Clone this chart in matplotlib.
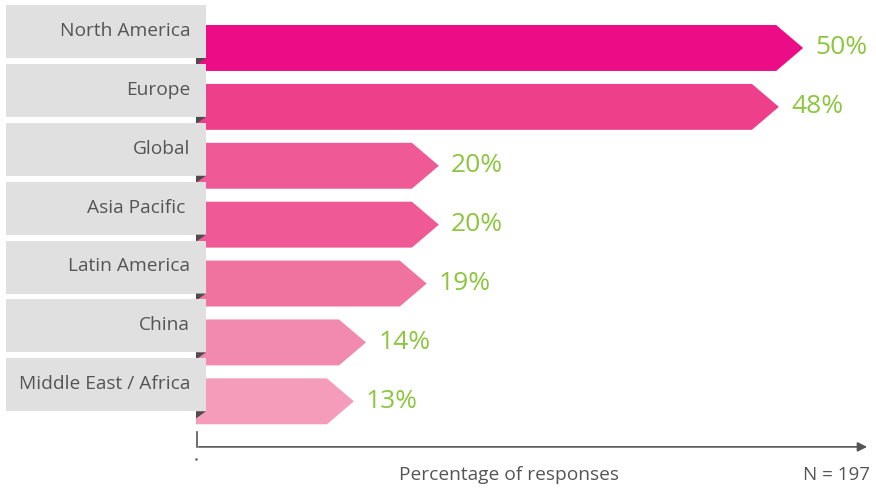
import matplotlib.pyplot as plt
from matplotlib.patches import Polygon, Rectangle

plt.rcParams['font.family'] = ['Open Sans', 'DejaVu Sans']

regions = ['North America', 'Europe', 'Global', 'Asia Pacific ', 'Latin America',
           'China', 'Middle East / Africa']
values = [50, 48, 20, 20, 19, 14, 13]
colors = ['#EC0C85', '#EE3F8A', '#EF5A96', '#EF5A96', '#F0729F', '#F28AB0', '#F49CBA']

fig = plt.figure(figsize=(8.76, 4.92), dpi=100)
ax = fig.add_axes([0, 0, 1, 1])
ax.set_xlim(-16.14, 56.0)
ax.set_ylim(7.54, -0.815)
ax.axis('off')

head = 2.22     # arrow head length in % units
half = 0.39     # half bar height in rows

for i, (name, val, col) in enumerate(zip(regions, values, colors)):
    # arrow-shaped bar
    body = val - head
    pts = [(0, i - half), (body, i - half), (val, i), (body, i + half), (0, i + half)]
    ax.add_patch(Polygon(pts, closed=True, facecolor=col, edgecolor='none'))

    # grey label box
    ax.add_patch(Rectangle((-15.65, i - 0.73), 16.47, 0.9, facecolor='#E0E0E0',
                           edgecolor='none'))
    # small folded corner
    ax.add_patch(Polygon([(0, i + 0.17), (0.82, i + 0.17), (0, i + 0.29)],
                         closed=True, facecolor='#4D4D4D', edgecolor='none'))
    ax.text(-0.49, i - 0.29, name, ha='right', va='center', fontsize=13.8, color='#555555')

    ax.text(val + 1.0, i, f'{val}%', ha='left', va='center', fontsize=19, color='#8CC63F')

# axis with arrow
ax.plot([0.08, 0.08], [6.52, 6.774], color='#555555', lw=1.2)
ax.annotate('', xy=(55.5, 6.774), xytext=(0.0, 6.774),
            arrowprops=dict(arrowstyle='-|>', color='#555555', lw=1.2, mutation_scale=14))
ax.plot([0.0], [6.98], marker='.', markersize=1.5, color='#555555')

ax.text(25.8, 7.25, 'Percentage of responses', ha='center', va='center', fontsize=13.8,
        color='#555555')
ax.text(55.5, 7.25, 'N = 197', ha='right', va='center', fontsize=13.5, color='#555555')

fig.savefig('out.png', dpi=100)
